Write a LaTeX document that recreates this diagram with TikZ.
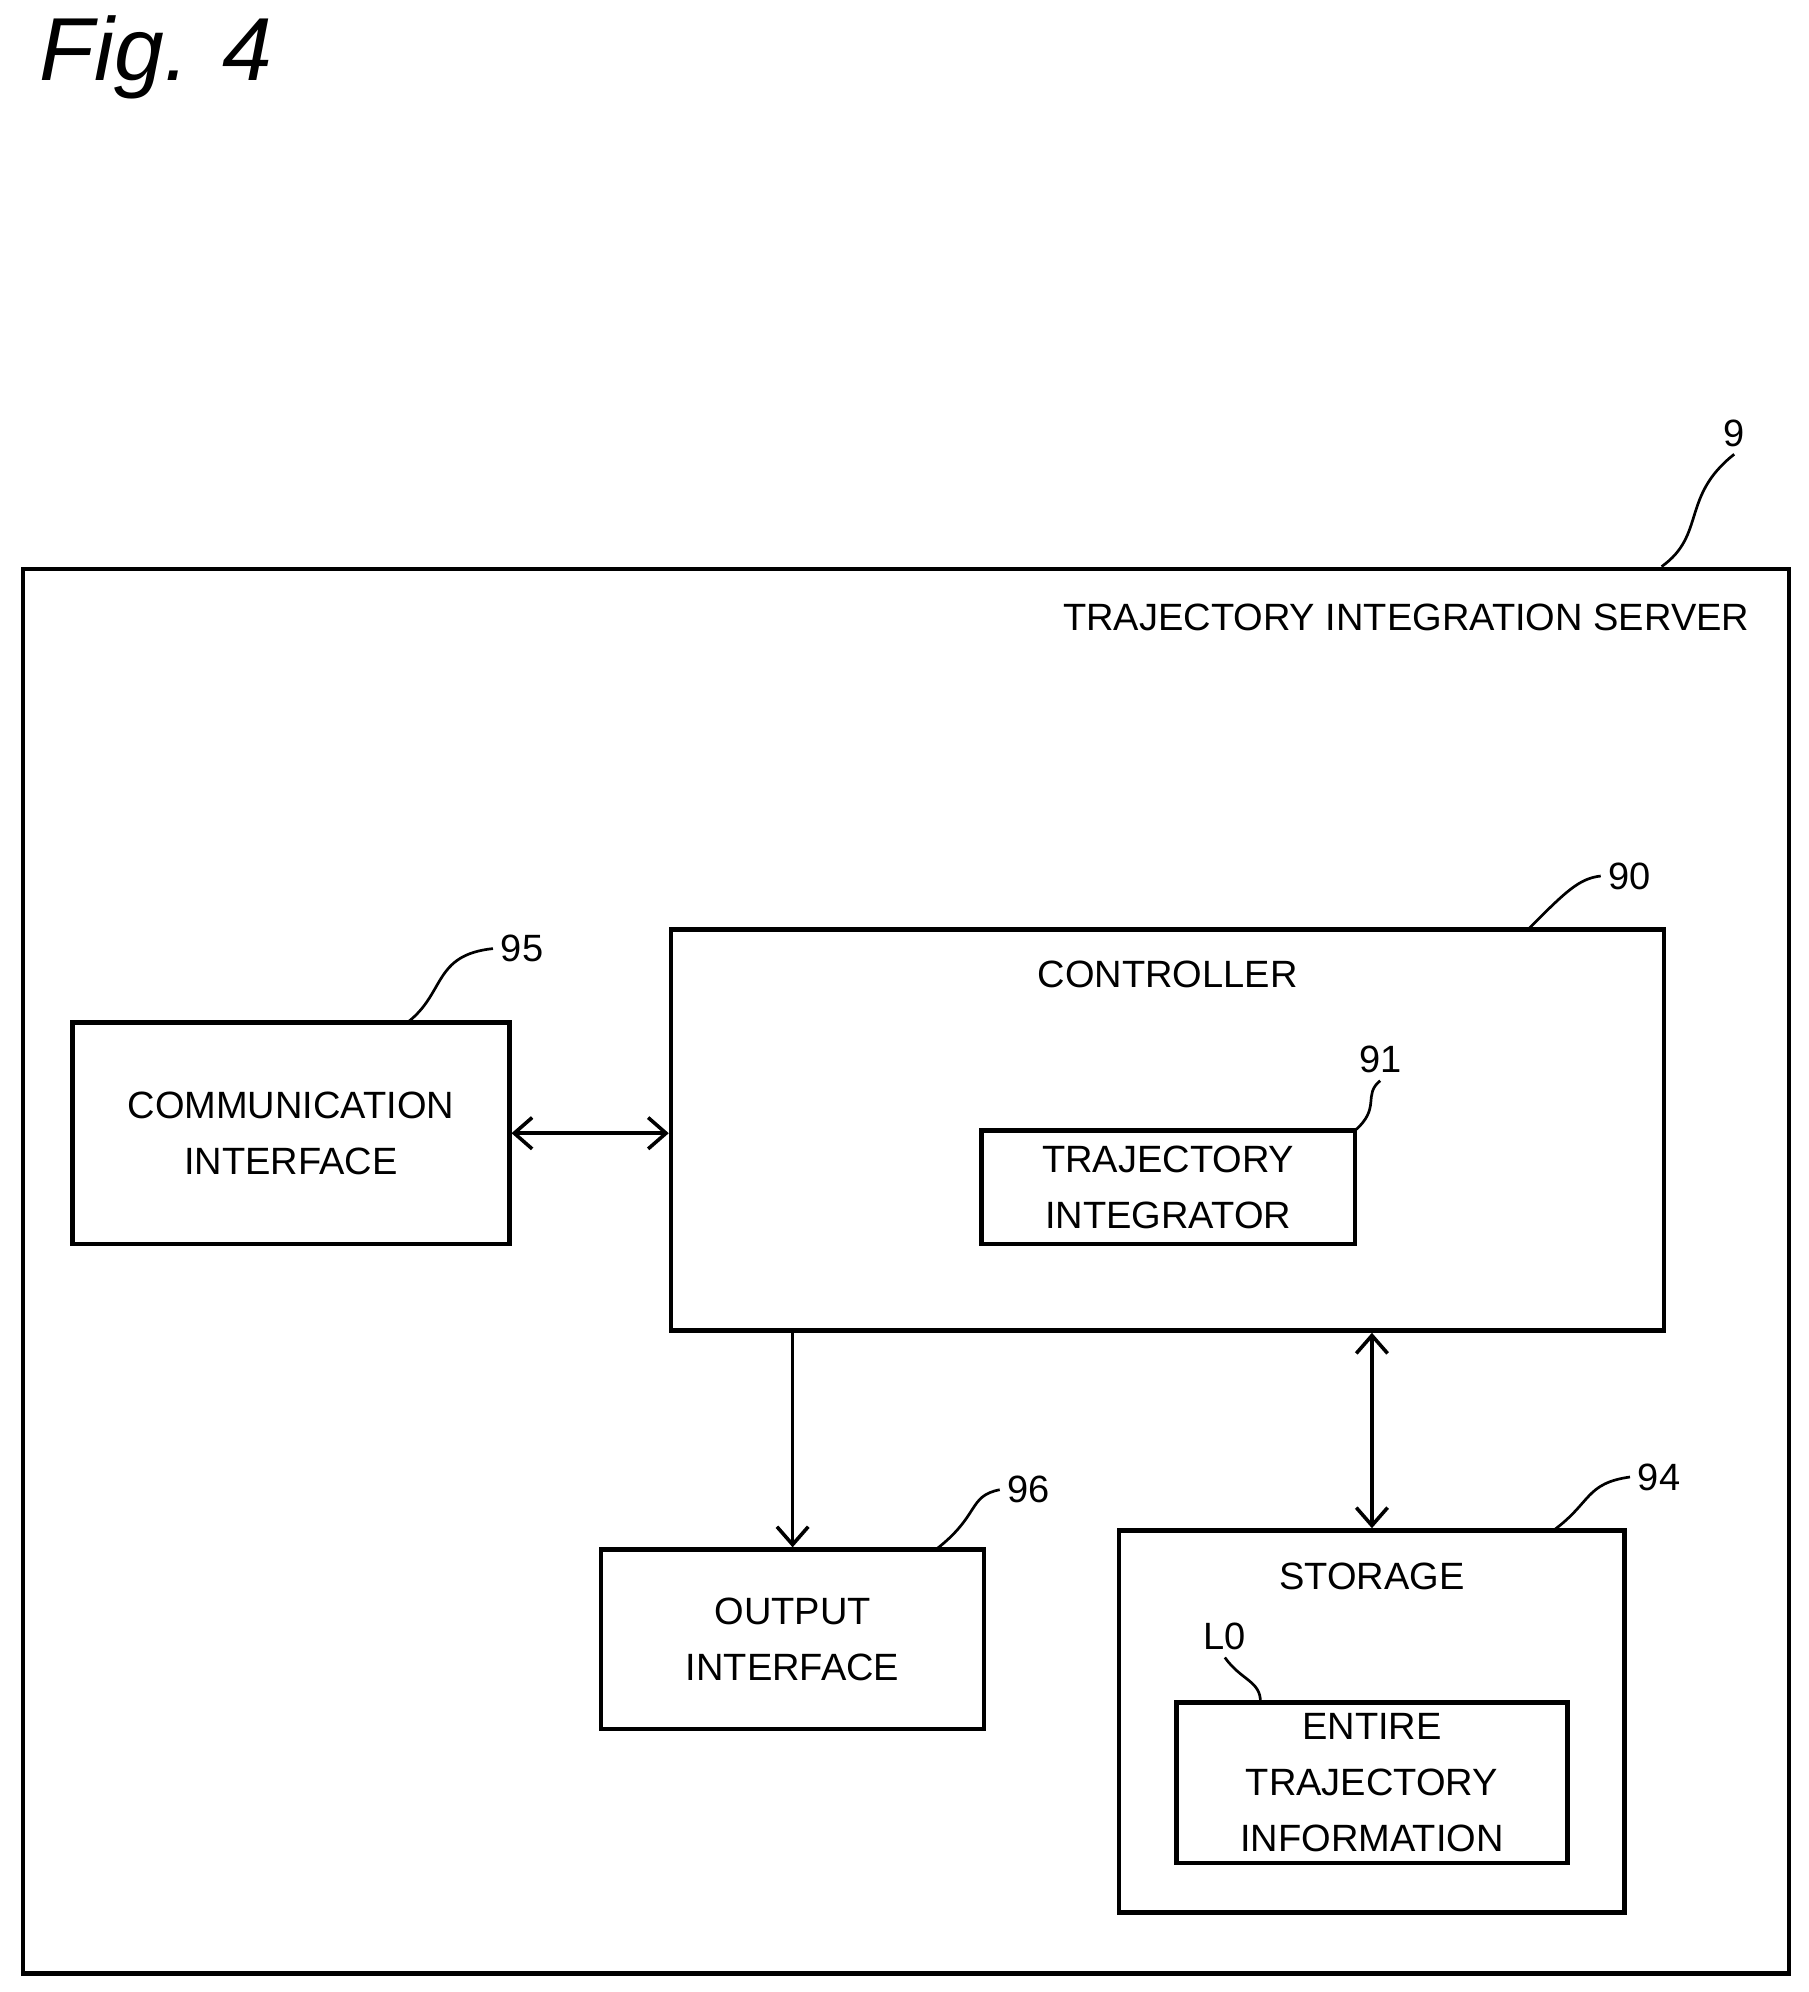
\documentclass[tikz,border=0pt]{standalone}
\usepackage{fontspec}
\setmainfont{Liberation Sans}
\usetikzlibrary{arrows.meta}
\begin{document}
\begin{tikzpicture}[x=0.02cm,y=-0.02cm]

% Define block styles
\tikzset{block/.style={rectangle, draw=black, line width=2pt, inner sep=0pt},
  txt/.style={font=\fontsize{17}{25}\selectfont, align=center},
  ref/.style={font=\fontsize{17}{20}\selectfont},
  arrow/.style={{Straight Barb[length=8pt,width=14pt]}-{Straight Barb[length=8pt,width=14pt]}, line width=1.6pt},
  lead/.style={line width=1.2pt}}

\useasboundingbox (0,0) rectangle (1420,1564.5);

\node[anchor=west, font=\fontsize{40}{40}\selectfont\itshape] (fig) at (25,45) {Fig. 4};

% Define blocks
\node[block, minimum width=1387*0.02cm, minimum height=1103*0.02cm] (server) at (711.5,998.5) {};
\node[txt, anchor=east] (servertitle) at (1380,485) {TRAJECTORY INTEGRATION SERVER};
\node[block, minimum width=780*0.02cm, minimum height=315*0.02cm] (controller) at (917,887.5) {};
\node[txt] (controllertitle) at (917,765) {CONTROLLER};
\node[block, txt, minimum width=293*0.02cm, minimum height=89*0.02cm] (integrator) at (917.5,932.5) {TRAJECTORY\\INTEGRATOR};
\node[block, txt, minimum width=343*0.02cm, minimum height=174*0.02cm] (comm) at (228.5,890) {COMMUNICATION\\INTERFACE};
\node[block, txt, minimum width=301*0.02cm, minimum height=141*0.02cm] (output) at (622.5,1287.5) {OUTPUT\\INTERFACE};
\node[block, minimum width=397*0.02cm, minimum height=300*0.02cm] (storage) at (1077.5,1352) {};
\node[txt] (storagetitle) at (1077.5,1238) {STORAGE};
\node[block, txt, minimum width=307*0.02cm, minimum height=126*0.02cm] (entire) at (1077.5,1400) {ENTIRE\\TRAJECTORY\\INFORMATION};

% Reference labels
\node[ref] (r9) at (1362,340) {9};
\node[ref] (r90) at (1280,688) {90};
\node[ref] (r91) at (1084,832) {91};
\node[ref] (r95) at (410,745) {95};
\node[ref] (r96) at (808,1170) {96};
\node[ref] (r94) at (1303,1160) {94};
\node[ref] (rL0) at (962,1285) {L0};

\draw[lead] (1305,445) .. controls (1340,420) and (1320,390) .. (r9.south);
\draw[lead] (1200,730) .. controls (1230,700) and (1240,690) .. (r90.west);
\draw[lead] (1064,888) .. controls (1085,870) and (1070,860) .. (r91.south);
\draw[lead] (320,803) .. controls (350,780) and (340,750) .. (r95.west);
\draw[lead] (735,1217) .. controls (770,1190) and (760,1175) .. (r96.west);
\draw[lead] (1220,1202) .. controls (1250,1180) and (1245,1165) .. (r94.west);
\draw[lead] (990,1337) .. controls (990,1320) and (975,1320) .. (rL0.south);

% Connections
\draw[arrow] (comm.east) -- (controller.west |- comm.east);
\draw[line width=1.6pt, -{Straight Barb[length=8pt,width=14pt]}] (controller.south -| output.north) -- (output.north);
\draw[arrow] (controller.south -| storage.north) -- (storage.north);

\end{tikzpicture}
\end{document}
